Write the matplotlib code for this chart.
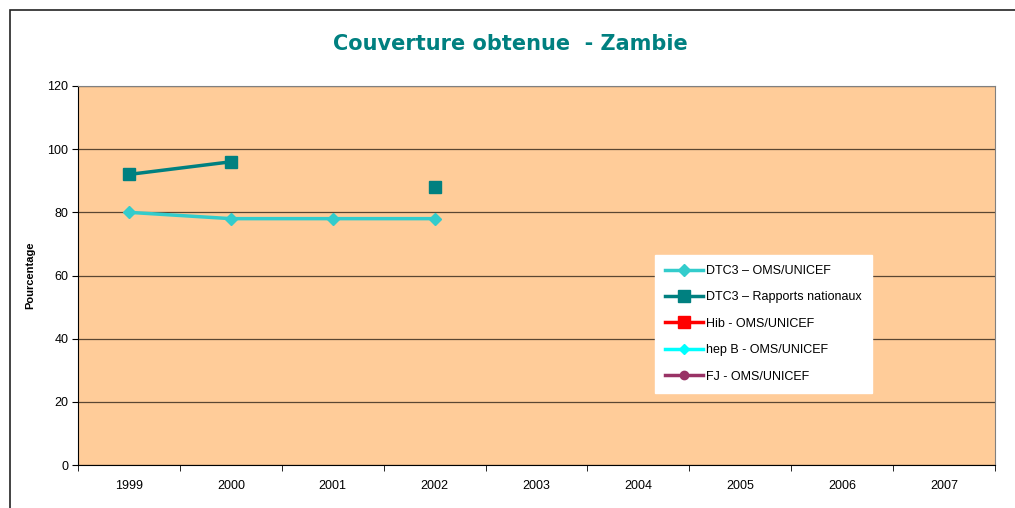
import matplotlib
matplotlib.use("Agg")
import matplotlib.pyplot as plt
from matplotlib.patches import Rectangle
import numpy as np

plt.rcParams['font.family'] = ['Liberation Sans', 'DejaVu Sans']

years = ['1999', '2000', '2001', '2002', '2003', '2004', '2005', '2006', '2007']
dtc3_oms = [80, 78, 78, 78, None, None, None, None, None]
dtc3_rap = [92, 96, None, 88, None, None, None, None, None]
hib_oms = [None] * 9
hepb_oms = [None] * 9
fj_oms = [None] * 9

def arr(v):
    return np.array([np.nan if x is None else x for x in v], dtype=float)

W, H = 1015, 508
fig = plt.figure(figsize=(W / 100, H / 100), dpi=100)
fig.patch.set_facecolor('white')

# outer frame
fig.patches.append(Rectangle((10 / W, -0.1), 1.1, (H - 10) / H + 0.1, transform=fig.transFigure,
                             fill=False, edgecolor='#222222', linewidth=1.2))

ax = fig.add_axes([78 / W, (H - 465) / H, (995 - 78) / W, (465 - 86) / H])
ax.set_facecolor('#FFCC99')
x = np.arange(len(years))

ax.set_xlim(-0.5, len(years) - 0.5)
ax.set_ylim(0, 120)
ax.set_yticks(range(0, 121, 20))
ax.yaxis.grid(True, color='#5a4632', linewidth=0.9)
ax.set_axisbelow(True)
ax.set_xticks(x)
ax.set_xticklabels(years)
ax.set_xticks(np.arange(-0.5, len(years), 1), minor=True)
ax.tick_params(axis='x', which='major', length=0, pad=11, labelsize=9)
ax.tick_params(axis='x', which='minor', length=4, direction='out', color='black')
ax.tick_params(axis='y', length=4, direction='out', labelsize=9, pad=3)
for s in ['top', 'right']:
    ax.spines[s].set_color('#808080')
for s in ['left', 'bottom']:
    ax.spines[s].set_color('black')

ax.plot(x, arr(dtc3_oms), color='#33CCCC', marker='D', markersize=6, linewidth=2.5, label='DTC3 – OMS/UNICEF', zorder=3)
ax.plot(x, arr(dtc3_rap), color='#008080', marker='s', markersize=8, linewidth=2.5, label='DTC3 – Rapports nationaux', zorder=3)
ax.plot(x, arr(hib_oms), color='#FF0000', marker='s', markersize=8, linewidth=2.5, label='Hib - OMS/UNICEF')
ax.plot(x, arr(hepb_oms), color='#00FFFF', marker='D', markersize=5, linewidth=2.5, label='hep B - OMS/UNICEF')
ax.plot(x, arr(fj_oms), color='#993366', marker='o', markersize=6, linewidth=2.5, label='FJ - OMS/UNICEF')

ax.set_ylabel('Pourcentage', fontsize=8, fontweight='bold', labelpad=9)

leg = ax.legend(loc='upper left', bbox_to_anchor=((655 - 78) / (995 - 78), (465 - 255) / (465 - 86)),
                frameon=True, fancybox=False, edgecolor='white', facecolor='white', framealpha=1,
                fontsize=9, handlelength=3.0, labelspacing=1.15, borderpad=0.8, handletextpad=0.3,
                borderaxespad=0)

fig.text(510 / W, 1 - 44 / H, 'Couverture obtenue  - Zambie', ha='center', va='center',
         fontsize=15, fontweight='bold', color='#008080', family=['DejaVu Sans'])

fig.savefig('out.png', dpi=100)
